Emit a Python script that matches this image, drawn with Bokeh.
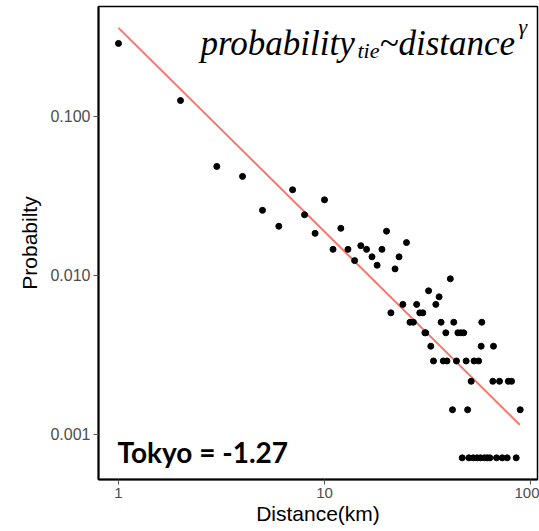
from bokeh.plotting import figure
from bokeh.models import Range1d, FixedTicker, Label
from bokeh.embed import file_html
from bokeh.resources import INLINE

# ---- data ----
distance = [1, 2, 3, 4, 5, 6, 7, 8, 9, 10, 11, 12, 13, 14, 15, 16, 17, 18, 19, 20,
            21, 22, 23, 24, 25, 26, 27, 28, 29, 30, 31, 32, 32.8, 34.7, 36, 36.8,
            40.8, 30.7, 38.8, 44.4, 45.9, 47.4,
            33.8, 37.7, 39.3, 43.7, 48.7, 53.2, 56.0,
            57.6, 66.1, 42.4, 58.0,
            41.8, 49.5, 89.1,
            51.5, 65.6, 70.7, 78.0, 80.9,
            46.6, 50.2, 52.7, 55.1, 57.2, 59.8, 61.6, 63.5, 68.4, 72.9, 77.1, 85.2]
probability = [0.288, 0.126, 0.0485, 0.042, 0.0257, 0.0204, 0.0346, 0.0241, 0.0184, 0.0299,
               0.0146, 0.0198, 0.0146, 0.0124, 0.0154, 0.0146, 0.0131, 0.0116, 0.0146, 0.0190,
               0.00582, 0.0110, 0.0131, 0.00658, 0.0161, 0.00508, 0.00508, 0.00658, 0.00582, 0.00582,
               0.00436, 0.00801, 0.00359, 0.00658, 0.00734, 0.00508,
               0.00953, 0.00436, 0.00436, 0.00436, 0.00436, 0.00436,
               0.00290, 0.00290, 0.00290, 0.00290, 0.00290, 0.00290, 0.00290,
               0.00359, 0.00359, 0.00508, 0.00508,
               0.00143, 0.00143, 0.00143,
               0.00216, 0.00216, 0.00216, 0.00216, 0.00216,
               0.000713, 0.000713, 0.000713, 0.000713, 0.000713, 0.000713, 0.000713,
               0.000713, 0.000713, 0.000713, 0.000713, 0.000713]

fit_distance = [1, 88.7]
fit_probability = [0.361, 0.00115]

x_ticks = [1, 10, 100]
x_tick_labels = ["1", "10", "100"]
y_ticks = [0.001, 0.01, 0.1]
y_tick_labels = ["0.001", "0.010", "0.100"]

fit_label = "Tokyo = -1.27"

# ---- figure ----
p = figure(width=539, height=531, x_axis_type="log", y_axis_type="log",
           x_range=Range1d(0.7998, 108.1), y_range=Range1d(0.000521, 0.4917),
           output_backend="svg", toolbar_location=None)
p.min_border_left = 98
p.min_border_right = 2
p.min_border_top = 6
p.min_border_bottom = 52

p.background_fill_color = "white"
p.border_fill_color = "white"
p.grid.visible = False
p.outline_line_color = "black"
p.outline_line_width = 1.5

for ax in (p.xaxis[0], p.yaxis[0]):
    ax.axis_line_color = "black"
    ax.axis_line_width = 2
    ax.major_tick_line_color = "#555555"
    ax.major_tick_out = 5
    ax.major_tick_in = 0
    ax.minor_tick_line_color = None
    ax.major_label_text_font = "Liberation Sans"
    ax.major_label_text_color = "#4D4D4D"
    ax.major_label_text_font_size = "15px"
    ax.axis_label_text_font = "Liberation Sans"
    ax.axis_label_text_font_style = "normal"
    ax.axis_label_text_color = "black"
    ax.axis_label_text_font_size = "21px"

p.xaxis.ticker = FixedTicker(ticks=x_ticks)
p.xaxis.major_label_overrides = dict(zip(x_ticks, x_tick_labels))
p.yaxis.ticker = FixedTicker(ticks=y_ticks)
p.yaxis.major_label_overrides = dict(zip(y_ticks, y_tick_labels))
p.yaxis.major_label_text_font_size = "16px"
p.xaxis.major_label_standoff = 3
p.yaxis.major_label_standoff = 3
p.xaxis.axis_label = "Distance(km)"
p.yaxis.axis_label = "Probabilty"
p.xaxis.axis_label_standoff = 1
p.yaxis.axis_label_standoff = 6

p.line(fit_distance, fit_probability, line_color="#F8766D", line_width=2)
p.scatter(distance, probability, size=6, color="black")

# annotations (screen units relative to frame, y from bottom)
p.add_layout(Label(x=19, y=28, x_units="screen", y_units="screen", text=fit_label,
                   text_font="Lato", text_font_style="bold", text_font_size="28px",
                   text_color="black", text_baseline="alphabetic"))

serif = "Liberation Serif"
p.add_layout(Label(x=102, y=436, x_units="screen", y_units="screen", text="probability",
                   text_font=serif, text_font_style="italic", text_font_size="35px",
                   text_color="black", text_baseline="alphabetic"))
p.add_layout(Label(x=259, y=429, x_units="screen", y_units="screen", text="tie",
                   text_font=serif, text_font_style="italic", text_font_size="22px",
                   text_color="black", text_baseline="alphabetic"))
p.add_layout(Label(x=281, y=436, x_units="screen", y_units="screen", text="~distance",
                   text_font=serif, text_font_style="italic", text_font_size="35px",
                   text_color="black", text_baseline="alphabetic"))
p.add_layout(Label(x=420, y=453, x_units="screen", y_units="screen", text="γ",
                   text_font=serif, text_font_style="italic", text_font_size="22px",
                   text_color="black", text_baseline="alphabetic"))

open("out.html", "w").write(file_html(p, INLINE))
